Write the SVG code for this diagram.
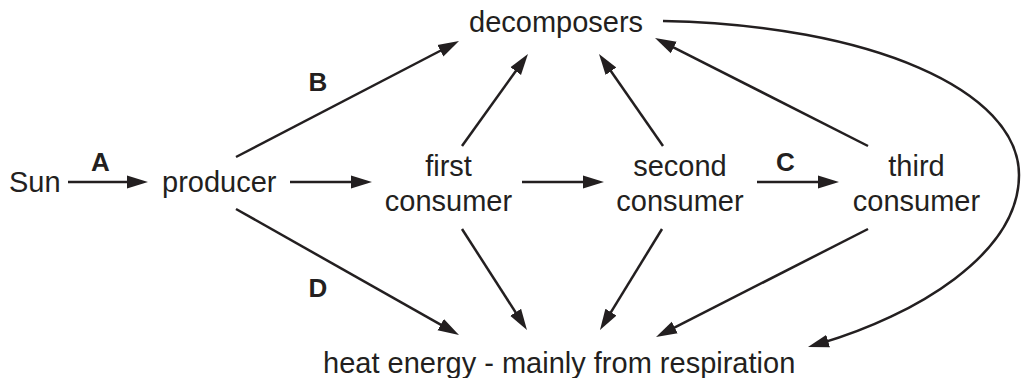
<svg xmlns="http://www.w3.org/2000/svg" width="1021" height="378" viewBox="0 0 1021 378">
<style>
  .t { font-family: "Liberation Sans", Arial, Helvetica, sans-serif; font-size: 29px; fill: #231f20; }
  .m { text-anchor: middle; }
  .lbl { font-family: "Liberation Sans", Arial, Helvetica, sans-serif; font-size: 26px; font-weight: bold; fill: #231f20; text-anchor: middle; }
  .c { fill: none; stroke: #231f20; stroke-width: 2.5; marker-end: url(#ah); }
</style>
<defs>
  <marker id="ah" markerUnits="userSpaceOnUse" markerWidth="22" markerHeight="14" viewBox="0 -7 22 14" refX="7" refY="0" orient="auto">
    <path d="M0,-6.5 L21,0 L0,6.5 Z" fill="#231f20"/>
  </marker>
</defs>
<rect width="1021" height="378" fill="#ffffff"/>
<g id="connectors">
  <line class="c" x1="68" y1="182" x2="134" y2="182"/>
  <line class="c" x1="290" y1="182" x2="358" y2="182"/>
  <line class="c" x1="522" y1="182" x2="590" y2="182"/>
  <line class="c" x1="757" y1="182" x2="825" y2="182"/>
  <line class="c" x1="236" y1="157" x2="446.6" y2="47.5"/>
  <line class="c" x1="462" y1="146" x2="519.8" y2="65.4"/>
  <line class="c" x1="663" y1="146" x2="607" y2="65.5"/>
  <line class="c" x1="868" y1="146" x2="667.5" y2="44.3"/>
  <line class="c" x1="236" y1="209" x2="446.8" y2="328.1"/>
  <line class="c" x1="462" y1="229" x2="519.4" y2="318.2"/>
  <line class="c" x1="662" y1="229" x2="607.3" y2="318.1"/>
  <line class="c" x1="868" y1="229" x2="668.5" y2="330.6"/>
  <path class="c" d="M663,21 C870,25 1019,90 1019,175 C1019,255 913,316 821.4,343.1"/>
</g>
<g id="labels">
  <text class="lbl" x="100.5" y="171">A</text>
  <text class="lbl" x="318" y="91">B</text>
  <text class="lbl" x="785.5" y="171">C</text>
  <text class="lbl" x="318" y="297">D</text>
</g>
<g id="sun"><text class="t" x="9" y="192">Sun</text></g>
<g id="producer"><text class="t" x="162" y="192">producer</text></g>
<g id="decomposers"><text class="t" x="469" y="32">decomposers</text></g>
<g id="first-consumer"><text class="t m" x="448.5" y="176">first</text><text class="t m" x="448.5" y="211">consumer</text></g>
<g id="second-consumer"><text class="t m" x="680" y="176">second</text><text class="t m" x="680" y="211">consumer</text></g>
<g id="third-consumer"><text class="t m" x="916.5" y="176">third</text><text class="t m" x="916.5" y="211">consumer</text></g>
<g id="heat"><text class="t" x="323" y="373">heat energy - mainly from respiration</text></g>
</svg>
